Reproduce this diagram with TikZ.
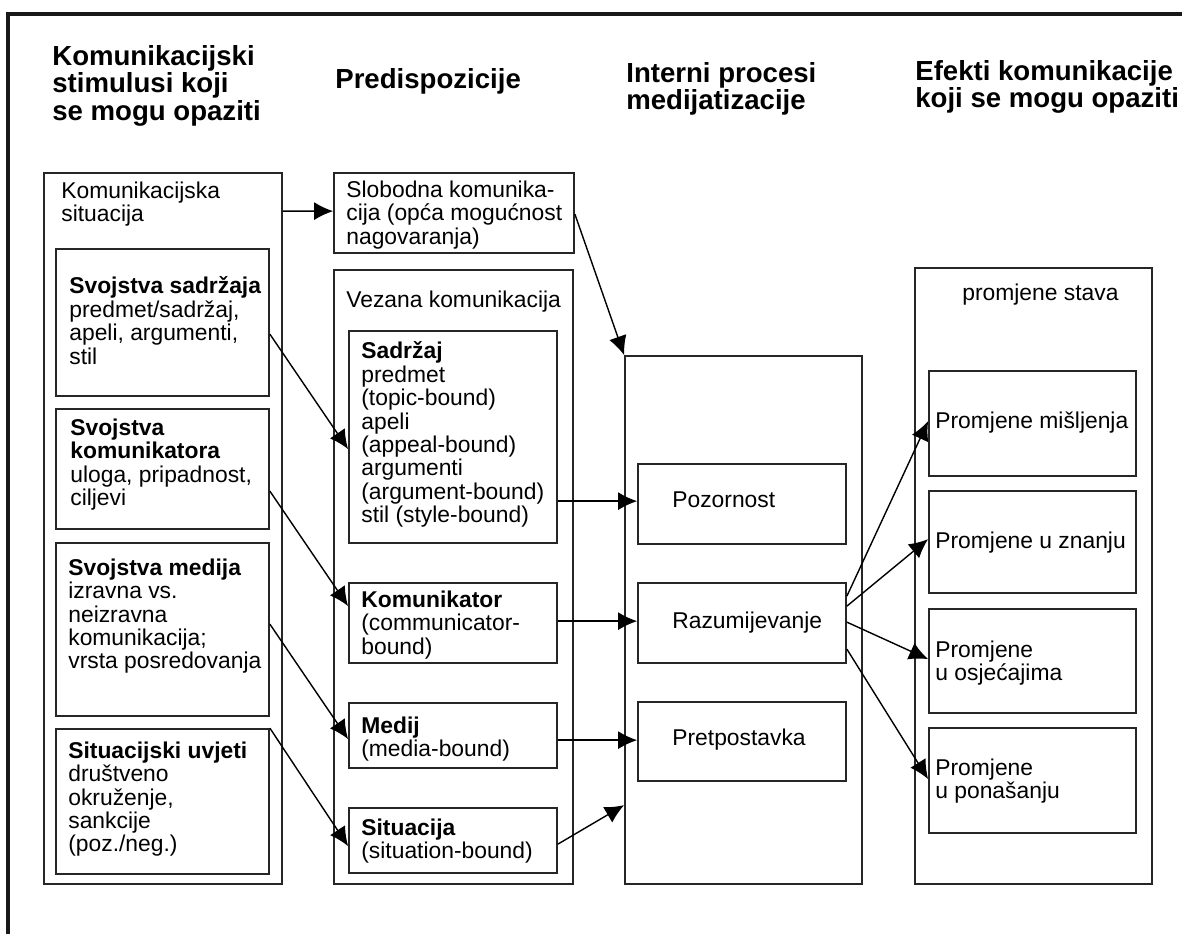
\documentclass[tikz,border=0pt]{standalone}
\usepackage{fontspec}
\setmainfont{Liberation Sans}
\usetikzlibrary{arrows.meta,fit,calc}

\begin{document}
\begin{tikzpicture}[x=0.02cm,y=-0.02cm,
    box/.style={draw=black!85,line width=1pt,inner sep=0pt},
    txt/.style={anchor=north west,inner sep=0pt,align=left,font=\fontsize{13}{13.3}\selectfont},
    ttl/.style={anchor=north west,inner sep=0pt,align=left,font=\fontsize{15.7}{14.2}\selectfont\bfseries},
    arr/.style={-{Latex[length=0.38cm,width=0.36cm]},line width=0.8pt}]
        \useasboundingbox (0,0) rectangle (1182,934);
        %
        \draw[line width=1.8pt,black!90] (8,934) -- (8,14) -- (1182,14); % okvir
        %
        % naslovi
        \node[ttl] (t1) at (52,45) {Komunikacijski\\stimulusi koji\\se mogu opaziti};
        \node[ttl] (t2) at (335,68) {Predispozicije};
        \node[ttl] (t3) at (626,62) {Interni procesi\\medijatizacije};
        \node[ttl] (t4) at (915,60) {Efekti komunikacije\\koji se mogu opaziti};
        %
        % stimulusi
        \node[box,fit={(44,173) (282,884)}] (kom) {};
        \node[txt] at (61,181.5) {Komunikacijska\\situacija};
        \node[box,fit={(56,249) (269,396)}] (svsad) {};
        \node[txt] at (69,276.5) {\textbf{Svojstva sadržaja}\\predmet/sadržaj,\\apeli, argumenti,\\stil};
        \node[box,fit={(56,409) (269,529)}] (svkom) {};
        \node[txt] at (70,418.5) {\textbf{Svojstva}\\\textbf{komunikatora}\\uloga, pripadnost,\\ciljevi};
        \node[box,fit={(56,543) (269,716)}] (svmed) {};
        \node[txt] at (68,558.5) {\textbf{Svojstva medija}\\izravna vs.\\neizravna\\komunikacija;\\vrsta posredovanja};
        \node[box,fit={(56,729) (269,874)}] (svsit) {};
        \node[txt] at (68,741.5) {\textbf{Situacijski uvjeti}\\društveno\\okruženje,\\sankcije\\(poz./neg.)};
        %
        % predispozicije
        \node[box,fit={(334,173) (574,253)}] (slob) {};
        \node[txt] at (346,180.5) {Slobodna komunika-\\cija (opća mogućnost\\nagovaranja)};
        \node[box,fit={(334,270) (573,884)}] (vez) {};
        \node[txt] at (346,290.5) {Vezana komunikacija};
        \node[box,fit={(349,331) (557,543)}] (sadrzaj) {};
        \node[txt] at (361,341.5) {\textbf{Sadržaj}\\predmet\\(topic-bound)\\apeli\\(appeal-bound)\\argumenti\\(argument-bound)\\stil (style-bound)};
        \node[box,fit={(349,583) (557,663)}] (komunikator) {};
        \node[txt] at (361,590.5) {\textbf{Komunikator}\\(communicator-\\bound)};
        \node[box,fit={(349,703) (557,768)}] (medij) {};
        \node[txt] at (361,716.5) {\textbf{Medij}\\(media-bound)};
        \node[box,fit={(349,808) (557,873)}] (situacija) {};
        \node[txt] at (361,818.5) {\textbf{Situacija}\\(situation-bound)};
        %
        % interni procesi
        \node[box,fit={(625,356) (862,884)}] (proc) {};
        \node[box,fit={(638,464) (846,544)}] (pozor) {};
        \node[txt] at (672,491.5) {Pozornost};
        \node[box,fit={(638,583) (846,663)}] (razum) {};
        \node[txt] at (672,611.5) {Razumijevanje};
        \node[box,fit={(638,702) (846,781)}] (pretp) {};
        \node[txt] at (672,728.5) {Pretpostavka};
        %
        % efekti
        \node[box,fit={(915,268) (1152,884)}] (efekt) {};
        \node[txt] at (962,283.5) {promjene stava};
        \node[box,fit={(929,371) (1136,476)}] (misl) {};
        \node[txt] at (935,411.5) {Promjene mišljenja};
        \node[box,fit={(929,491) (1136,593)}] (znanje) {};
        \node[txt] at (935,531.5) {Promjene u znanju};
        \node[box,fit={(929,609) (1136,713)}] (osjec) {};
        \node[txt] at (935,640.5) {Promjene\\u osjećajima};
        \node[box,fit={(929,728) (1136,833)}] (ponas) {};
        \node[txt] at (935,758.5) {Promjene\\u ponašanju};
        %
        % strelice
        \draw[arr] ($(kom.north east)+(0,39)$) -- ($(slob.north west)+(0,39)$);
        \draw[arr] ($(slob.north east)+(0,42)$) -- (proc.north west);
        \draw[arr] ($(svsad.north east)+(0,86)$) -- ($(sadrzaj.north west)+(0,119)$);
        \draw[arr] ($(svkom.north east)+(0,83)$) -- ($(komunikator.north west)+(0,24)$);
        \draw[arr] ($(svmed.north east)+(0,82)$) -- ($(medij.north west)+(0,37)$);
        \draw[arr] (svsit.north east) -- ($(situacija.north west)+(0,39)$);
        \draw[arr] ($(sadrzaj.north east)+(0,171)$) -- ($(pozor.north west)+(0,38)$);
        \draw[arr] ($(komunikator.north east)+(0,39)$) -- ($(razum.north west)+(0,39)$);
        \draw[arr] ($(medij.north east)+(0,38)$) -- ($(pretp.north west)+(0,39)$);
        \draw[arr] ($(situacija.north east)+(0,37)$) -- ($(proc.north west)+(0,450)$);
        \draw[arr] ($(razum.north east)+(0,14)$) -- ($(misl.north west)+(0,51)$);
        \draw[arr] ($(razum.north east)+(0,24)$) -- ($(znanje.north west)+(0,49)$);
        \draw[arr] ($(razum.north east)+(0,40)$) -- ($(osjec.north west)+(0,51)$);
        \draw[arr] ($(razum.north east)+(0,67)$) -- ($(ponas.north west)+(0,52)$);
\end{tikzpicture}
\end{document}
